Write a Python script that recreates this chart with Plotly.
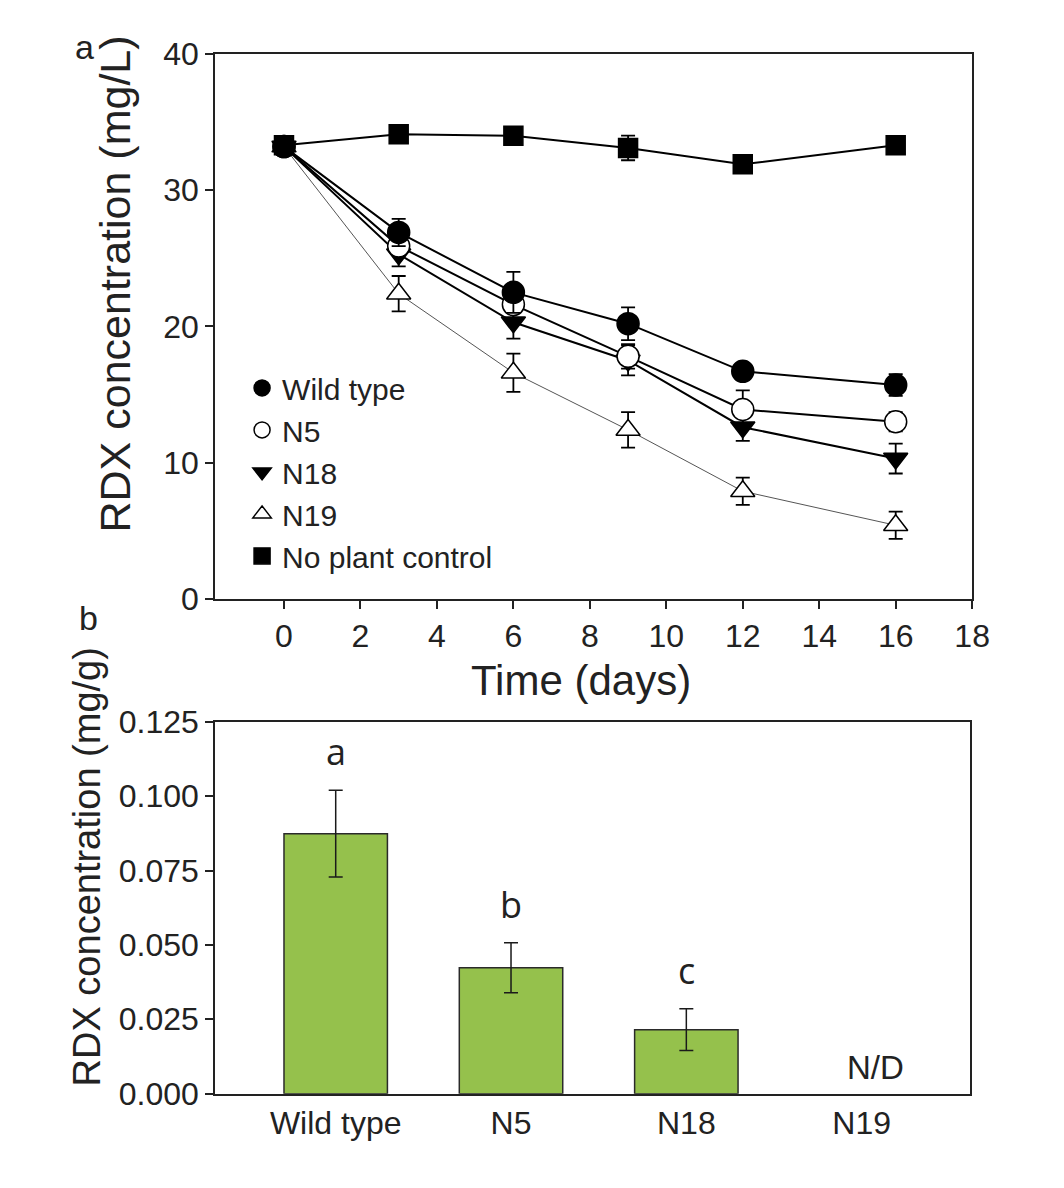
import plotly.graph_objects as go

# ---------------- data: panel a ----------------
days = [0, 3, 6, 9, 12, 16]
wild_type = [33.2, 26.9, 22.5, 20.2, 16.7, 15.7]
wild_type_err = [0.6, 1.0, 1.5, 1.2, 0.6, 0.8]
n5 = [33.2, 25.9, 21.6, 17.8, 13.9, 13.0]
n5_err = [0.5, 0.6, 1.0, 0.9, 1.4, 0.7]
n18 = [33.2, 25.3, 20.3, 17.5, 12.6, 10.3]
n18_err = [0.5, 0.9, 1.2, 1.1, 1.0, 1.1]
n19 = [33.2, 22.4, 16.6, 12.4, 7.9, 5.4]
n19_err = [0.5, 1.3, 1.4, 1.3, 1.0, 1.0]
control = [33.3, 34.1, 34.0, 33.1, 31.9, 33.3]
control_err = [0.4, 0.3, 0.4, 0.9, 0.3, 0.3]
x_ticks_a = [0, 2, 4, 6, 8, 10, 12, 14, 16, 18]
y_ticks_a = [0, 10, 20, 30, 40]

# ---------------- data: panel b ----------------
lines_b = ["Wild type", "N5", "N18", "N19"]
tissue_rdx = [0.0874, 0.0423, 0.0215, None]
tissue_err = [0.0146, 0.0084, 0.0070, None]
letters_b = ["a", "b", "c", "N/D"]
y_ticks_b = [0.000, 0.025, 0.050, 0.075, 0.100, 0.125]

FONT = "Liberation Sans, Arial, sans-serif"
TXT = "#222222"
W, H = 1064, 1188


# map a pixel position of the target picture to paper coordinates
def px(x):
    return ((x - 5) / 0.987) / W


def py(y):
    return 1 - ((y - 25) / 0.97) / H


fig = go.Figure()

# ---- panel a : connecting lines (not in legend) ----
series = [
    ("N19", n19, n19_err, "triangle-up", "white", "#555555", 1.0, 4),
    ("No plant control", control, control_err, "square", "black", "black", 2.0, 5),
    ("N18", n18, n18_err, "triangle-down", "black", "black", 2.0, 3),
    ("N5", n5, n5_err, "circle", "white", "black", 2.0, 2),
    ("Wild type", wild_type, wild_type_err, "circle", "black", "black", 2.0, 1),
]
for name, vals, err, sym, fill, lcol, lw, rank in series:
    fig.add_trace(go.Scatter(
        x=days, y=vals, mode="lines", line=dict(color=lcol, width=lw),
        showlegend=False, hoverinfo="skip", xaxis="x", yaxis="y"))
for name, vals, err, sym, fill, lcol, lw, rank in series:
    size = 21 if sym.startswith("triangle") else (19 if sym == "square" else 22)
    fig.add_trace(go.Scatter(
        x=days, y=vals, mode="markers", name=name, legendrank=rank,
        marker=dict(symbol=sym, size=size, color=fill,
                    line=dict(color="black", width=1.5)),
        error_y=dict(type="data", array=err, visible=True, color="black",
                     thickness=1.8, width=7),
        xaxis="x", yaxis="y"))

# ---- panel b : bars ----
fig.add_trace(go.Bar(
    x=lines_b, y=tissue_rdx, width=0.59,
    marker=dict(color="#95c14c", line=dict(color="#2a2a2a", width=1.5)),
    error_y=dict(type="data", array=tissue_err, visible=True, color="#1a1a1a",
                 thickness=1.5, width=7),
    showlegend=False, xaxis="x2", yaxis="y2"))

annotations = []
for cat, v, e, lab in zip(lines_b, tissue_rdx, tissue_err, letters_b):
    if v is None:
        annotations.append(dict(x=cat, y=0, xref="x2", yref="y2", text=lab,
                                showarrow=False, yanchor="bottom", yshift=6,
                                xshift=14, font=dict(family=FONT, size=33, color=TXT)))
    else:
        annotations.append(dict(x=cat, y=v + e, xref="x2", yref="y2", text=lab,
                                showarrow=False, yanchor="bottom", yshift=12,
                                font=dict(family="Open Sans, Noto Sans, sans-serif",
                                          size=36, color=TXT)))

# axis titles and panel labels
annotations += [
    dict(x=px(112), y=py(283), xref="paper", yref="paper", text="RDX concentration (mg/L)",
         textangle=-90, showarrow=False, xanchor="center", yanchor="middle",
         font=dict(family=FONT, size=43, color=TXT)),
    dict(x=px(580), y=py(680), xref="paper", yref="paper", text="Time (days)",
         showarrow=False, xanchor="center", yanchor="middle",
         font=dict(family=FONT, size=42, color=TXT)),
    dict(x=px(84), y=py(866), xref="paper", yref="paper", text="RDX concentration (mg/g)",
         textangle=-90, showarrow=False, xanchor="center", yanchor="middle",
         font=dict(family=FONT, size=38, color=TXT)),
    dict(x=px(82), y=1, xref="paper", yref="paper", text="a",
         showarrow=False, xanchor="center", yanchor="top",
         font=dict(family=FONT, size=34, color=TXT)),
    dict(x=px(86), y=py(617), xref="paper", yref="paper", text="b",
         showarrow=False, xanchor="center", yanchor="middle",
         font=dict(family=FONT, size=34, color=TXT)),
]

axis_common = dict(showline=True, linecolor="#222222", linewidth=2, mirror=True,
                   showgrid=False, zeroline=False, ticks="outside", ticklen=8,
                   tickwidth=2, tickcolor="#222222",
                   tickfont=dict(family=FONT, size=32, color=TXT))

fig.update_layout(
    width=W, height=H,
    margin=dict(l=0, r=0, t=0, b=0),
    paper_bgcolor="white", plot_bgcolor="white",
    xaxis=dict(domain=[px(213), px(973)], anchor="y", range=[-1.8, 18],
               tickvals=x_ticks_a, **axis_common),
    yaxis=dict(domain=[py(598), py(53)], anchor="x", range=[0, 40],
               tickvals=y_ticks_a, **axis_common),
    xaxis2=dict(domain=[px(213), px(971)], anchor="y2", type="category",
                range=[-0.6875, 3.619], showline=True, linecolor="#222222", linewidth=2,
                mirror=True, showgrid=False, zeroline=False, ticks="",
                tickfont=dict(family=FONT, size=32, color=TXT)),
    yaxis2=dict(domain=[py(1093), py(721)], anchor="x2", range=[0, 0.125],
                tickvals=y_ticks_b, tickformat=".3f", **axis_common),
    legend=dict(x=px(240), y=py(361), xanchor="left", yanchor="top",
                bgcolor="rgba(0,0,0,0)", font=dict(family=FONT, size=30, color=TXT),
                itemwidth=30, tracegroupgap=0),
    annotations=annotations,
)

fig.write_html("out.html")
